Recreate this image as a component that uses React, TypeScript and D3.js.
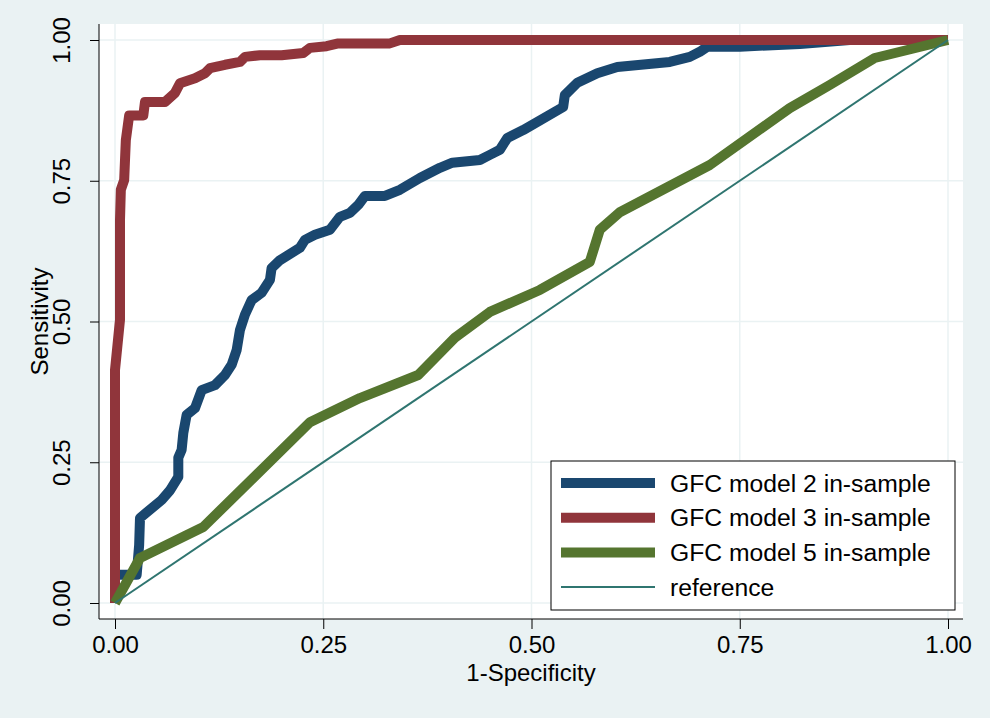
import { useRef, useEffect } from 'react';
import * as d3 from 'd3';

type Pt = [number, number];

// ROC points: [1 - specificity, sensitivity]
const model2: Pt[] = [
  [0, 0], [0, 0.05], [0.026, 0.05], [0.029, 0.103], [0.03, 0.151], [0.056, 0.183],
  [0.066, 0.2], [0.076, 0.224], [0.076, 0.258], [0.08, 0.272], [0.082, 0.302],
  [0.086, 0.334], [0.096, 0.346], [0.104, 0.378], [0.12, 0.387], [0.132, 0.405],
  [0.14, 0.423], [0.146, 0.449], [0.15, 0.485], [0.156, 0.512], [0.164, 0.538],
  [0.176, 0.551], [0.186, 0.574], [0.188, 0.595], [0.198, 0.609], [0.222, 0.631],
  [0.228, 0.645], [0.24, 0.654], [0.258, 0.663], [0.27, 0.686], [0.282, 0.693],
  [0.292, 0.707], [0.3, 0.723], [0.324, 0.723], [0.342, 0.734], [0.366, 0.755],
  [0.39, 0.773], [0.405, 0.782], [0.438, 0.787], [0.45, 0.796], [0.462, 0.805],
  [0.471, 0.826], [0.49, 0.84], [0.538, 0.881], [0.54, 0.902], [0.555, 0.924],
  [0.579, 0.941], [0.603, 0.952], [0.666, 0.961], [0.69, 0.97], [0.702, 0.979],
  [0.711, 0.988], [0.75, 0.988], [0.822, 0.993], [0.882, 1], [1, 1],
];

const model3: Pt[] = [
  [0, 0], [0, 0.414], [0.006, 0.503], [0.006, 0.68], [0.007, 0.734], [0.011, 0.751],
  [0.013, 0.822], [0.017, 0.866], [0.034, 0.866], [0.036, 0.89], [0.06, 0.89],
  [0.072, 0.906], [0.078, 0.923], [0.096, 0.932], [0.108, 0.941], [0.114, 0.95],
  [0.132, 0.956], [0.15, 0.961], [0.156, 0.97], [0.174, 0.973], [0.2, 0.973],
  [0.226, 0.977], [0.234, 0.986], [0.254, 0.989], [0.268, 0.994], [0.33, 0.994],
  [0.342, 1], [1, 1],
];

const model5: Pt[] = [
  [0, 0], [0.03, 0.08], [0.106, 0.135], [0.234, 0.321], [0.294, 0.364],
  [0.364, 0.405], [0.408, 0.471], [0.45, 0.517], [0.51, 0.556], [0.57, 0.606],
  [0.582, 0.663], [0.606, 0.694], [0.714, 0.778], [0.81, 0.879], [0.858, 0.92],
  [0.912, 0.968], [1, 1],
];

const referenceLine: Pt[] = [[0, 0], [1, 1]];

const ticks = [0, 0.25, 0.5, 0.75, 1];
const seriesNames = ['GFC model 2 in-sample', 'GFC model 3 in-sample', 'GFC model 5 in-sample', 'reference'];
const seriesColors = ['#1A476F', '#90353B', '#55752F', '#2F7570'];
const seriesWidths = [10, 10, 10, 2];

export default function App() {
  const svgRef = useRef<SVGSVGElement>(null);

  useEffect(() => {
    if (!svgRef.current) return;
    const svg = d3.select(svgRef.current);
    svg.selectAll('*').remove();

    const width = 990;
    const height = 718;
    const font = '"Liberation Sans", Arial, sans-serif';
    const bg = '#EAF2F3';

    // plot region
    const region = { left: 99, right: 963, top: 24, bottom: 619 };

    const x = d3.scaleLinear().domain([0, 1]).range([115, 948]);
    const y = d3.scaleLinear().domain([0, 1]).range([603, 40]);

    svg.append('rect').attr('width', width).attr('height', height).attr('fill', bg);
    svg.append('rect')
      .attr('x', region.left)
      .attr('y', region.top)
      .attr('width', region.right - region.left)
      .attr('height', region.bottom - region.top)
      .attr('fill', '#ffffff');

    // Grid
    ticks.forEach(t => {
      svg.append('line')
        .attr('x1', x(t)).attr('x2', x(t))
        .attr('y1', region.top).attr('y2', region.bottom)
        .attr('stroke', bg).attr('stroke-width', 1.5);
      svg.append('line')
        .attr('x1', region.left).attr('x2', region.right)
        .attr('y1', y(t)).attr('y2', y(t))
        .attr('stroke', bg).attr('stroke-width', 1.5);
    });

    // Curves
    const line = d3.line<Pt>()
      .x(d => x(d[0]))
      .y(d => y(d[1]));

    [model2, model3, model5, referenceLine].forEach((data, i) => {
      svg.append('path')
        .datum(data)
        .attr('fill', 'none')
        .attr('stroke', seriesColors[i])
        .attr('stroke-width', seriesWidths[i])
        .attr('stroke-linejoin', 'round')
        .attr('d', line);
    });

    // Axes
    const xAxis = svg.append('g')
      .attr('transform', `translate(0,${region.bottom})`)
      .call(d3.axisBottom(x).tickValues(ticks).tickFormat(d3.format('.2f')).tickSize(10).tickSizeOuter(0));
    xAxis.select('.domain').attr('d', `M${region.left},0H${region.right}`).attr('stroke', '#000');
    xAxis.selectAll('.tick line').attr('stroke', '#000');
    xAxis.selectAll('.tick text')
      .attr('y', 34)
      .attr('dy', null)
      .style('font-family', font)
      .style('font-size', '24px')
      .attr('fill', '#000');

    const yAxis = svg.append('g')
      .attr('transform', `translate(${region.left},0)`)
      .call(d3.axisLeft(y).tickValues(ticks).tickFormat(d3.format('.2f')).tickSize(9).tickSizeOuter(0));
    yAxis.select('.domain').attr('d', `M0,${region.top}V${region.bottom}`).attr('stroke', '#000');
    yAxis.selectAll('.tick line').attr('stroke', '#000');
    yAxis.selectAll('.tick text')
      .attr('x', null)
      .attr('dy', null)
      .attr('transform', 'translate(-29,0) rotate(-90)')
      .attr('text-anchor', 'middle')
      .style('font-family', font)
      .style('font-size', '24px')
      .attr('fill', '#000');

    // Axis titles
    svg.append('text')
      .attr('x', (region.left + region.right) / 2)
      .attr('y', 681)
      .attr('text-anchor', 'middle')
      .style('font-family', font)
      .style('font-size', '24px')
      .text('1-Specificity');

    svg.append('text')
      .attr('transform', `translate(48,${(region.top + region.bottom) / 2}) rotate(-90)`)
      .attr('text-anchor', 'middle')
      .style('font-family', font)
      .style('font-size', '24px')
      .text('Sensitivity');

    // Legend
    const legend = svg.append('g');
    legend.append('rect')
      .attr('x', 551).attr('y', 461)
      .attr('width', 404).attr('height', 149)
      .attr('fill', '#fff')
      .attr('stroke', '#000')
      .attr('stroke-width', 1);

    seriesNames.forEach((name, i) => {
      const cy = 483 + i * 34.7;
      legend.append('line')
        .attr('x1', 561).attr('x2', 655)
        .attr('y1', cy).attr('y2', cy)
        .attr('stroke', seriesColors[i])
        .attr('stroke-width', seriesWidths[i]);
      legend.append('text')
        .attr('x', 670)
        .attr('y', cy + 8.5)
        .style('font-family', font)
        .style('font-size', '24.7px')
        .text(name);
    });
  }, []);

  return (
    <svg
      ref={svgRef}
      width={990}
      height={718}
      style={{ position: 'absolute', left: 0, top: 0, display: 'block' }}
    />
  );
}
